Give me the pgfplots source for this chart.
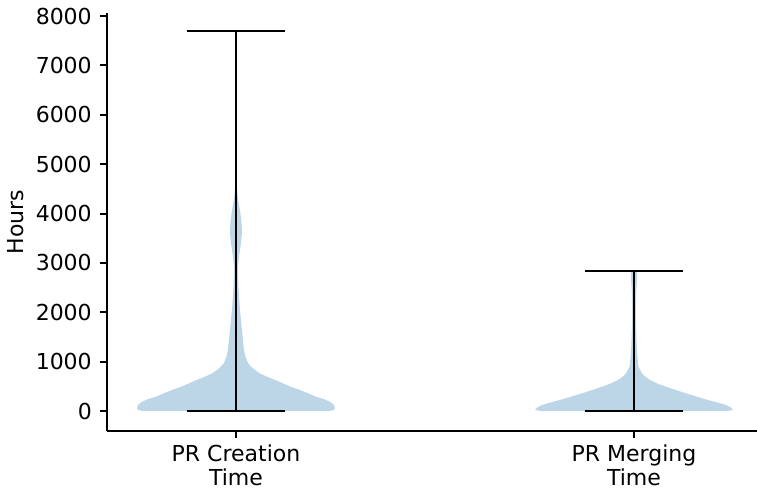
\documentclass[border=0pt]{standalone}
\usepackage{fontspec}
\setmainfont{DejaVu Sans}
\usepackage{pgfplots}
\pgfplotsset{compat=1.18}
\usepackage{pgfplotstable}

\definecolor{violinfill}{RGB}{188,214,232}

% Violin outlines: y = hours, w = offset from the centre (x units);
% up the right side, then back down the left side.
\pgfplotstableread{
y     w
0     0.2337
20    0.2462
61    0.2487
120   0.2462
188   0.2362
240   0.2211
290   0.2010
360   0.1809
425   0.1608
490   0.1382
561   0.1181
630   0.0980
695   0.0779
760   0.0603
830   0.0477
900   0.0377
972   0.0302
1100  0.0239
1235  0.0201
1640  0.0151
2045  0.0101
2500  0.0063
2900  0.0045
3200  0.0088
3400  0.0126
3600  0.0151
3800  0.0141
4000  0.0113
4300  0.0050
4600  0.0013
5000  0.0003
7690  0.0000
5000  -0.0003
4600  -0.0013
4300  -0.0050
4000  -0.0113
3800  -0.0141
3600  -0.0151
3400  -0.0126
3200  -0.0088
2900  -0.0045
2500  -0.0063
2045  -0.0101
1640  -0.0151
1235  -0.0201
1100  -0.0239
972   -0.0302
900   -0.0377
830   -0.0477
760   -0.0603
695   -0.0779
630   -0.0980
561   -0.1181
490   -0.1382
425   -0.1608
360   -0.1809
290   -0.2010
240   -0.2211
188   -0.2362
120   -0.2462
61    -0.2487
20    -0.2462
0     -0.2337
}\creation

\pgfplotstableread{
y     w
0     0.2337
20    0.2487
70    0.2437
122   0.2312
170   0.2111
223   0.1859
290   0.1583
358   0.1307
425   0.1055
492   0.0804
560   0.0578
628   0.0402
700   0.0276
764   0.0201
897   0.0113
1175  0.0075
1438  0.0063
1900  0.0045
2400  0.0055
2700  0.0075
2835  0.0083
2835  -0.0083
2700  -0.0075
2400  -0.0055
1900  -0.0045
1438  -0.0063
1175  -0.0075
897   -0.0113
764   -0.0201
700   -0.0276
628   -0.0402
560   -0.0578
492   -0.0804
425   -0.1055
358   -0.1307
290   -0.1583
223   -0.1859
170   -0.2111
122   -0.2312
70    -0.2437
20    -0.2487
0     -0.2337
}\merging

\begin{document}
\begin{tikzpicture}
\begin{axis}[
  name=ax,
  scale only axis,
  width=487.5pt, height=313.7pt,
  xmin=0.676, xmax=2.309,
  ymin=-405, ymax=8067,
  axis x line*=bottom, axis y line*=left,
  axis line style={line width=1.5pt, -},
  tick align=outside,
  major tick length=4.9pt,
  every tick/.style={black, line width=1.5pt},
  xtick={1,2},
  xticklabels={PR Creation\\Time, PR Merging\\Time},
  ytick={0,1000,...,8000},
  minor tick num=0,
  font=\fontsize{16.5}{18}\selectfont,
  xticklabel style={align=center, yshift=-2pt, font=\fontsize{16.5}{18}\selectfont},
  yticklabel style={xshift=-3pt},
  /pgf/number format/1000 sep={},
  /pgf/number format/assume math mode=true,
  ylabel={Hours},
  ylabel shift=2pt,
]
  % violin bodies
  \addplot[fill=violinfill, draw=none] table[x expr=1+\thisrow{w}, y=y]{\creation} -- cycle;
  \addplot[fill=violinfill, draw=none] table[x expr=2+\thisrow{w}, y=y]{\merging} -- cycle;
  % extrema bars and range lines
  \addplot[black, line width=1.5pt] coordinates {(1,0) (1,7690)};
  \addplot[black, line width=1.5pt] coordinates {(0.876,0) (1.124,0)};
  \addplot[black, line width=1.5pt] coordinates {(0.876,7690) (1.124,7690)};
  \addplot[black, line width=1.5pt] coordinates {(2,0) (2,2835)};
  \addplot[black, line width=1.5pt] coordinates {(1.876,0) (2.124,0)};
  \addplot[black, line width=1.5pt] coordinates {(1.876,2835) (2.124,2835)};
\end{axis}
\pgfresetboundingbox
\useasboundingbox ([xshift=-80.25pt,yshift=-44.25pt]ax.south west) rectangle ++(567.75pt,367.5pt);
\end{tikzpicture}
\end{document}
